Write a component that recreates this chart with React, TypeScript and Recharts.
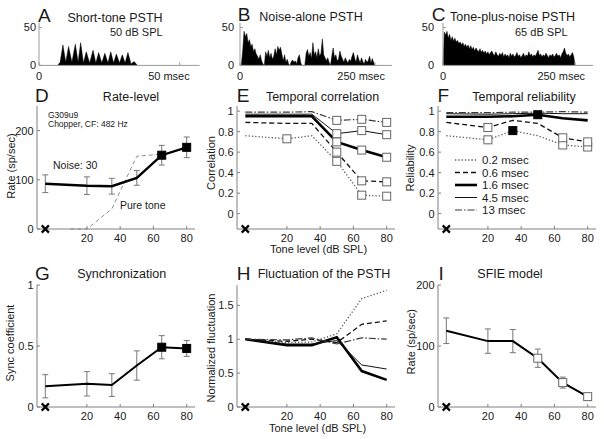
import React from "react";
import { AreaChart, Area, ComposedChart, Line, XAxis, YAxis, ErrorBar } from "recharts";

const FONT = "'Liberation Sans', Arial, Helvetica, sans-serif";
const INK = "#1a1a1a";
const FRAME = "#808080";

// ---------- top row: PSTHs (spikes per bin) ----------
const shortToneTimeMs = [6.6, 7.5, 8.5, 9.5, 10.5, 11.7, 12.9, 13.9, 14.8, 15.8, 16.8, 18.0, 19.2, 20.2, 21.2, 22.3, 23.4, 24.5, 25.5, 26.5, 27.5, 28.6, 29.6, 30.6, 31.6, 32.7, 33.8, 35.0];
const shortToneCount = [0, 4, 27, 4, 25, 4, 28, 4, 30, 3, 18, 3, 20, 3, 17, 3, 16, 3, 18, 3, 15, 3, 14, 3, 17, 2, 5, 0];

const psthBinMs = 2.5;
const noiseAloneCount = [
  0, 0, 20, 45, 38, 42, 30, 34, 25, 28,
  18, 22, 15, 12, 8, 14, 6, 2, 0, 18,
  12, 20, 10, 16, 8, 12, 22, 14, 25, 20,
  24, 15, 6, 14, 4, 8, 2, 0, 5, 7,
  4, 6, 2, 10, 14, 3, 0, 0, 0, 16,
  21, 12, 17, 9, 30, 14, 18, 10, 22, 12,
  16, 35, 14, 10, 6, 10, 4, 0, 12, 23,
  10, 14, 6, 8, 19, 12, 8, 4, 10, 6,
  3, 8, 5, 12, 17, 9, 4, 14, 8, 3,
  10, 5, 2, 8, 4, 6, 12, 3, 9, 4,
  0,
];
const tonePlusNoiseCount = [
  0, 44, 40, 45, 36, 41, 33, 38, 32, 36,
  31, 33, 29, 31, 27, 30, 25, 28, 24, 27,
  22, 26, 21, 24, 19, 23, 20, 18, 22, 17,
  20, 16, 19, 15, 18, 14, 17, 19, 15, 13,
  18, 14, 12, 16, 13, 17, 11, 15, 12, 14,
  10, 16, 12, 15, 11, 13, 17, 12, 14, 10,
  13, 16, 11, 14, 12, 18, 13, 15, 11, 14,
  12, 16, 20, 13, 15, 11, 14, 12, 16, 13,
  10, 14, 12, 15, 11, 13, 16, 12, 14, 10,
  15, 18, 23, 16, 13, 15, 11, 14, 17, 12,
  0,
];

// ---------- tone level (dB SPL); -5 = noise alone (shown with an x) ----------
const toneLevels = [-5, 20, 35, 50, 65, 80];
const levelTicks = [20, 40, 60, 80];

// D: rate-level
const rateNoise = [92, 88, 87, 104, 150, 166];
const rateNoiseErr = [18, 18, 16, 15, 20, 21];
const rateMarks = ["", "", "", "", "f", "f"];
const pureToneLevels = [10, 20, 35, 50, 65];
const pureToneRate = [0, 0, 41, 148, 152];

// E: temporal correlation, one list per analysis window
const corr02 = [0.76, 0.73, 0.76, 0.51, 0.18, 0.17];
const corr06 = [0.89, 0.88, 0.88, 0.6, 0.32, 0.31];
const corr16 = [0.95, 0.95, 0.95, 0.7, 0.62, 0.55];
const corr45 = [0.97, 0.97, 0.97, 0.78, 0.81, 0.77];
const corr13 = [0.99, 0.99, 0.995, 0.91, 0.92, 0.89];
const corrMarks02 = ["", "o", "", "o", "o", "o"];
const corrMarks = ["", "", "", "o", "o", "o"];

// F: temporal reliability
const rel02 = [0.76, 0.72, 0.81, 0.76, 0.67, 0.65];
const rel06 = [0.89, 0.84, 0.91, 0.88, 0.74, 0.7];
const rel16 = [0.945, 0.945, 0.95, 0.965, 0.93, 0.91];
const rel45 = [0.975, 0.97, 0.975, 0.98, 0.975, 0.975];
const rel13 = [0.985, 0.985, 0.99, 0.99, 0.995, 0.99];
const relMarks02 = ["", "o", "f", "", "o", "o"];
const relMarks06 = ["", "o", "", "", "o", "o"];
const relMarks16 = ["", "", "", "f", "", ""];

// G: synchronization
const syncCoef = [0.17, 0.19, 0.18, 0.34, 0.49, 0.48];
const syncErr = [0.095, 0.1, 0.093, 0.12, 0.095, 0.065];
const syncMarks = ["", "", "", "", "f", "f"];

// H: normalized fluctuation
const fluct02 = [1.0, 0.95, 0.96, 1.08, 1.6, 1.72];
const fluct06 = [1.0, 0.97, 1.0, 0.95, 1.22, 1.27];
const fluct16 = [1.0, 0.91, 0.91, 1.03, 0.53, 0.4];
const fluct45 = [1.0, 0.93, 0.93, 0.98, 0.62, 0.56];
const fluct13 = [1.0, 0.99, 1.02, 0.93, 1.02, 1.0];

// I: SFIE model
const sfieRate = [125, 108, 108, 80, 40, 17];
const sfieErr = [21, 20, 19, 15, 9, 0];
const sfieMarks = ["", "", "", "o", "o", "o"];

const windowNames = ["0.2 msec", "0.6 msec", "1.6 msec", "4.5 msec", "13 msec"];

type LineStyle = { stroke: string; width: number; dash?: string };
const S02: LineStyle = { stroke: "#5a5a5a", width: 1.3, dash: "1.3 2" };
const S06: LineStyle = { stroke: "#111", width: 1.3, dash: "5 3" };
const S16: LineStyle = { stroke: "#000", width: 2.6 };
const S45: LineStyle = { stroke: "#111", width: 1 };
const S13: LineStyle = { stroke: "#3a3a3a", width: 1.2, dash: "7 2 1.5 2" };
const windowStyles = [S02, S06, S16, S45, S13];
const THICK: LineStyle = { stroke: "#000", width: 2.4 };

type Series = { values: number[]; style: LineStyle; marks?: string[]; err?: number[] };

const AXIS_W = 40;
const AXIS_H = 20;
const BOX_W = 158;
const PAD = 8; // room above each plot so the top tick label is not clipped
const PSTH_TOP = 23.3;
const PSTH_H = 42.4;

const tickFont = { fill: INK, fontSize: 11, fontFamily: FONT };

function buildRows(series: Series[], withPure: boolean, markY: number) {
  const all = Array.from(new Set([...toneLevels, ...(withPure ? pureToneLevels : [])])).sort((a, b) => a - b);
  return all.map((lv) => {
    const row: Record<string, any> = { level: lv };
    const i = toneLevels.indexOf(lv);
    series.forEach((s, k) => {
      if (i < 0) return;
      row[`v${k}`] = s.values[i];
      if (s.err) row[`e${k}`] = s.err[i];
      if (s.marks) row[`m${k}`] = s.marks[i];
    });
    if (withPure) {
      const j = pureToneLevels.indexOf(lv);
      if (j >= 0) row.pure = pureToneRate[j];
    }
    if (lv === toneLevels[0]) row.mark = markY;
    return row;
  });
}

const squareDot = (k: number) => (p: any) => {
  const m = p.payload?.[`m${k}`];
  const key = `sq${k}-${p.index}`;
  if (!m || p.cx == null || p.cy == null) return <g key={key} />;
  const filled = m === "f";
  return (
    <rect key={key} x={p.cx - 4} y={p.cy - 4} width={8} height={8}
      fill={filled ? "#000" : "#fff"} stroke={filled ? "#000" : "#666"} strokeWidth={1} />
  );
};

const crossDot = (p: any) => {
  if (p.cx == null || p.cy == null) return <g key={`x-${p.index}`} />;
  const { cx, cy } = p;
  return (
    <path key={`x-${p.index}`} d={`M${cx - 3.6},${cy - 3.6}L${cx + 3.6},${cy + 3.6}M${cx - 3.6},${cy + 3.6}L${cx + 3.6},${cy - 3.6}`}
      stroke="#000" strokeWidth={2.2} fill="none" />
  );
};

const noTick = () => <g />;

function LevelPanel({ boxLeft, boxTop, boxHeight, yDomain, yTicks, series, withPure = false }: {
  boxLeft: number; boxTop: number; boxHeight: number; yDomain: [number, number];
  yTicks: number[]; series: Series[]; withPure?: boolean;
}) {
  const rows = buildRows(series, withPure, yDomain[0]);
  return (
    <div style={{ position: "absolute", left: boxLeft - AXIS_W, top: boxTop - PAD }}>
      <ComposedChart width={AXIS_W + BOX_W} height={boxHeight + AXIS_H + PAD} data={rows}
        margin={{ top: PAD, right: 0, bottom: 0, left: 0 }}>
        <XAxis dataKey="level" type="number" domain={[-10, 85]} ticks={levelTicks} interval={0}
          height={AXIS_H} stroke={FRAME} tickSize={-3} tickMargin={8} tick={tickFont} />
        <XAxis xAxisId="top" orientation="top" dataKey="level" type="number" domain={[-10, 85]}
          ticks={levelTicks} interval={0} height={0} stroke={FRAME} tickSize={-3} tick={noTick} />
        <YAxis type="number" domain={yDomain} ticks={yTicks} interval={0} width={AXIS_W}
          stroke={FRAME} tickSize={-3} tickMargin={6.5} tick={tickFont} />
        <YAxis yAxisId="right" orientation="right" type="number" domain={yDomain} ticks={yTicks}
          interval={0} width={0} stroke={FRAME} tickSize={-3} tick={noTick} />
        {withPure && (
          <Line dataKey="pure" stroke="#8c8c8c" strokeWidth={1} strokeDasharray="4 3" dot={false}
            activeDot={false} connectNulls isAnimationActive={false} />
        )}
        {series.map((s, k) => (
          <Line key={k} dataKey={`v${k}`} stroke={s.style.stroke} strokeWidth={s.style.width}
            strokeDasharray={s.style.dash} dot={squareDot(k)} activeDot={false} connectNulls
            isAnimationActive={false}>
            {s.err && <ErrorBar dataKey={`e${k}`} width={3} stroke="#777" strokeWidth={1} direction="y" />}
          </Line>
        ))}
        <Line dataKey="mark" stroke="none" dot={crossDot} activeDot={false} isAnimationActive={false} />
      </ComposedChart>
    </div>
  );
}

const psthTick = (unit: string) => (p: any) => {
  const v = p.payload.value;
  const end = v !== 0;
  return (
    <text x={end ? p.x + 10 : p.x} y={p.y} dy="0.71em" textAnchor={end ? "end" : "middle"}
      fill={INK} fontSize={11} fontFamily={FONT}>
      {end ? `${v} ${unit}` : v}
    </text>
  );
};

function PsthPanel({ axisLeft, plotWidth, data, xMax, tickAt, labelGap }: {
  axisLeft: number; plotWidth: number; data: { t: number; c: number }[];
  xMax: number; tickAt: number; labelGap: number;
}) {
  const w = 34;
  return (
    <div style={{ position: "absolute", left: axisLeft - w, top: PSTH_TOP - PAD }}>
      <AreaChart width={w + plotWidth} height={PSTH_H + 18 + PAD} data={data}
        margin={{ top: PAD, right: 0, bottom: 0, left: 0 }}>
        <XAxis dataKey="t" type="number" domain={[0, xMax]} ticks={[0, tickAt]} interval={0}
          height={18} stroke="#9a9a9a" tickSize={-3} tickMargin={9.5} tick={psthTick("msec")} />
        <YAxis type="number" domain={[0, 56]} ticks={[0, 50]} interval={0} width={w}
          stroke="#9a9a9a" tickSize={-3} tickMargin={3 + labelGap} tick={tickFont} />
        <Area dataKey="c" type="linear" stroke="#000" strokeWidth={0.5} fill="#000" fillOpacity={1}
          dot={false} activeDot={false} isAnimationActive={false} />
      </AreaChart>
    </div>
  );
}

function Txt({ x, y, size = 11, anchor = "start", rotate = false, children }: {
  x: number; y: number; size?: number; anchor?: "start" | "middle" | "end"; rotate?: boolean; children: React.ReactNode;
}) {
  return (
    <text x={rotate ? 0 : x} y={rotate ? 0 : y} transform={rotate ? `translate(${x},${y}) rotate(-90)` : undefined}
      textAnchor={anchor} fontSize={size} fontFamily={FONT} fill={INK}>
      {children}
    </text>
  );
}

export default function App() {
  const shortTone = shortToneTimeMs.map((t, i) => ({ t, c: shortToneCount[i] }));
  const noiseAlone = noiseAloneCount.map((c, i) => ({ t: i * psthBinMs, c }));
  const tonePlusNoise = tonePlusNoiseCount.map((c, i) => ({ t: i * psthBinMs, c }));

  const corrSeries: Series[] = [corr02, corr06, corr16, corr45, corr13].map((values, k) => ({
    values, style: windowStyles[k], marks: k === 0 ? corrMarks02 : corrMarks,
  }));
  const relMarks = [relMarks02, relMarks06, relMarks16, undefined, undefined];
  const relSeries: Series[] = [rel02, rel06, rel16, rel45, rel13].map((values, k) => ({
    values, style: windowStyles[k], marks: relMarks[k],
  }));
  const fluctSeries: Series[] = [fluct02, fluct06, fluct16, fluct45, fluct13].map((values, k) => ({
    values, style: windowStyles[k],
  }));

  return (
    <div style={{ position: "absolute", left: 0, top: 0, width: 604, height: 439, background: "#fff", overflow: "hidden" }}>
      <PsthPanel axisLeft={39.3} plotWidth={160.7} data={shortTone} xMax={57.1} tickAt={50} labelGap={3} />
      <PsthPanel axisLeft={240} plotWidth={152} data={noiseAlone} xMax={281.5} tickAt={250} labelGap={6} />
      <PsthPanel axisLeft={443} plotWidth={150} data={tonePlusNoise} xMax={284} tickAt={250} labelGap={9} />

      <LevelPanel boxLeft={36.5} boxTop={106} boxHeight={123} yDomain={[0, 250]} yTicks={[0, 100, 200]}
        series={[{ values: rateNoise, style: THICK, marks: rateMarks, err: rateNoiseErr }]} withPure />
      <LevelPanel boxLeft={236.5} boxTop={106} boxHeight={123} yDomain={[-0.15, 1.05]}
        yTicks={[0, 0.2, 0.4, 0.6, 0.8, 1]} series={corrSeries} />
      <LevelPanel boxLeft={437.5} boxTop={106} boxHeight={123} yDomain={[-0.15, 1.05]}
        yTicks={[0, 0.2, 0.4, 0.6, 0.8, 1]} series={relSeries} />

      <LevelPanel boxLeft={36.5} boxTop={285} boxHeight={122} yDomain={[0, 1]} yTicks={[0, 0.5, 1]}
        series={[{ values: syncCoef, style: { stroke: "#000", width: 2 }, marks: syncMarks, err: syncErr }]} />
      <LevelPanel boxLeft={236.5} boxTop={285} boxHeight={122} yDomain={[0, 1.8]} yTicks={[0, 0.5, 1, 1.5]}
        series={fluctSeries} />
      <LevelPanel boxLeft={437.5} boxTop={285} boxHeight={122} yDomain={[0, 200]} yTicks={[0, 100, 200]}
        series={[{ values: sfieRate, style: { stroke: "#000", width: 2 }, marks: sfieMarks, err: sfieErr }]} />

      <svg width={604} height={439} style={{ position: "absolute", left: 0, top: 0, pointerEvents: "none" }}>
        <Txt x={38} y={21.7} size={19}>A</Txt>
        <Txt x={237.7} y={21} size={19}>B</Txt>
        <Txt x={431.7} y={21} size={19}>C</Txt>
        <Txt x={115} y={21.5} size={12.5} anchor="middle">Short-tone PSTH</Txt>
        <Txt x={311} y={21} size={12.5} anchor="middle">Noise-alone PSTH</Txt>
        <Txt x={450} y={21} size={12.5}>Tone-plus-noise PSTH</Txt>
        <Txt x={110} y={36}>50 dB SPL</Txt>
        <Txt x={515} y={35.5}>65 dB SPL</Txt>

        <Txt x={35} y={101.5} size={19}>D</Txt>
        <Txt x={236.7} y={101.5} size={19}>E</Txt>
        <Txt x={437.5} y={101.5} size={19}>F</Txt>
        <Txt x={131} y={101} size={12.5} anchor="middle">Rate-level</Txt>
        <Txt x={322.5} y={101} size={12.5} anchor="middle">Temporal correlation</Txt>
        <Txt x={524} y={101} size={12.5} anchor="middle">Temporal reliability</Txt>
        <Txt x={48} y={117.5} size={8.5}>G309u9</Txt>
        <Txt x={48} y={127} size={8.5}>Chopper, CF: 482 Hz</Txt>
        <Txt x={53} y={169} size={10.5}>Noise: 30</Txt>
        <Txt x={120} y={209} size={10.5}>Pure tone</Txt>
        <Txt x={14.5} y={166} anchor="middle" rotate>Rate (sp/sec)</Txt>
        <Txt x={215} y={163} anchor="middle" rotate>Correlation</Txt>
        <Txt x={414} y={168} anchor="middle" rotate>Reliability</Txt>
        <Txt x={318.5} y={253} anchor="middle">Tone level (dB SPL)</Txt>

        {windowNames.map((name, k) => {
          const cy = 160 + k * 12.5;
          const st = windowStyles[k];
          return (
            <g key={name}>
              <line x1={455} x2={477} y1={cy} y2={cy} stroke={st.stroke} strokeWidth={st.width} strokeDasharray={st.dash} />
              <Txt x={482} y={cy + 4} size={11.5}>{name}</Txt>
            </g>
          );
        })}

        <Txt x={35} y={280} size={19}>G</Txt>
        <Txt x={236.7} y={280} size={19}>H</Txt>
        <Txt x={438.5} y={280} size={19}>I</Txt>
        <Txt x={121.7} y={278} size={12.5} anchor="middle">Synchronization</Txt>
        <Txt x={324} y={278} size={12.5} anchor="middle">Fluctuation of the PSTH</Txt>
        <Txt x={510} y={278} size={12.5} anchor="middle">SFIE model</Txt>
        <Txt x={14} y={343} anchor="middle" rotate>Sync coefficient</Txt>
        <Txt x={215} y={348} anchor="middle" rotate>Normalized fluctuation</Txt>
        <Txt x={415} y={341.7} anchor="middle" rotate>Rate (sp/sec)</Txt>
        <Txt x={317.5} y={432} anchor="middle">Tone level (dB SPL)</Txt>
      </svg>
    </div>
  );
}
